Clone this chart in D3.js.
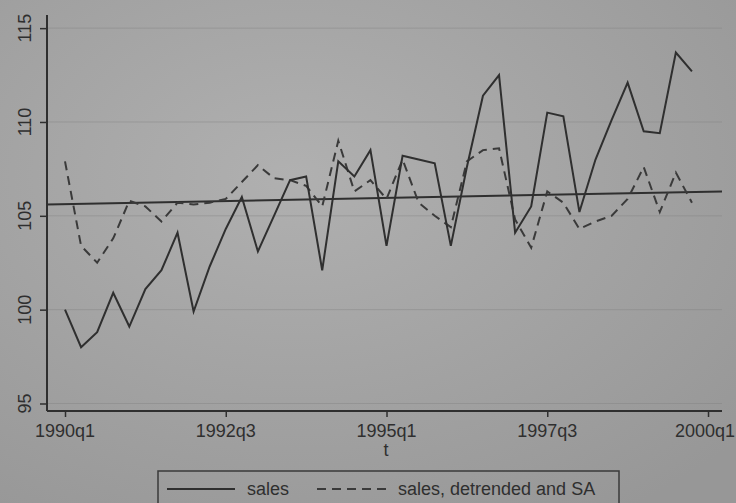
<!DOCTYPE html>
<html>
<head>
<meta charset="utf-8">
<script src="https://cdn.jsdelivr.net/npm/d3@7"></script>
<style>
  html, body { margin: 0; padding: 0; background: #a0a0a0; }
  svg { display: block; }
  text { font-family: "Liberation Sans", Arial, Helvetica, sans-serif; fill: #2f2f2f; }
</style>
</head>
<body>
<svg id="chart" width="736" height="503"></svg>
<script>
// Quarterly periods 1990q1 .. 1999q4 (index 0..39)
const quarters = d3.range(40).map(i => `${1990 + Math.floor(i / 4)}q${(i % 4) + 1}`);

const sales = [
  100.0, 98.0, 98.8, 100.9, 99.1, 101.1, 102.1, 104.1, 99.9, 102.3,
  104.3, 106.0, 103.1, 105.0, 106.9, 107.1, 102.1, 107.9, 107.1, 108.5,
  103.4, 108.2, 108.0, 107.8, 103.4, 107.6, 111.4, 112.5, 104.1, 105.5,
  110.5, 110.3, 105.2, 108.0, 110.1, 112.1, 109.5, 109.4, 113.7, 112.7
];

const salesDetrendedSA = [
  107.9, 103.4, 102.5, 103.8, 105.8, 105.5, 104.7, 105.7, 105.6, 105.7,
  105.9, 106.8, 107.7, 107.0, 106.9, 106.6, 105.5, 109.0, 106.3, 106.9,
  105.9, 108.0, 105.7, 105.0, 104.4, 107.9, 108.5, 108.6, 104.8, 103.3,
  106.3, 105.7, 104.3, 104.7, 105.0, 105.9, 107.6, 105.2, 107.3, 105.7
];

// reference (mean) line, as it appears at the left and right edges of the plot
const refLine = [105.6, 106.3];

const yTicks = [95, 100, 105, 110, 115];
const xTickIndex = [0, 10, 20, 30, 40];
const xTickLabels = ["1990q1", "1992q3", "1995q1", "1997q3", "2000q1"];

const legendLabels = ["sales", "sales, detrended and SA"];

const svg = d3.select("#chart");
const W = 736, H = 503;

// background with slight photo-like shading
const defs = svg.append("defs");
const grad = defs.append("radialGradient").attr("id", "bg")
  .attr("cx", "40%").attr("cy", "35%").attr("r", "80%");
grad.append("stop").attr("offset", "0%").attr("stop-color", "#b0b0b0");
grad.append("stop").attr("offset", "100%").attr("stop-color", "#979797");
svg.append("rect").attr("width", W).attr("height", H).attr("fill", "url(#bg)");

const x = d3.scaleLinear().domain([-1.12, 40.87]).range([47, 722]);
const y = d3.scaleLinear().domain([94.6, 115.7]).range([411, 15]);

const ink = "#2f2f2f";

// faint gridlines
svg.append("g").selectAll("line").data(yTicks).join("line")
  .attr("x1", x.range()[0]).attr("x2", x.range()[1])
  .attr("y1", d => y(d)).attr("y2", d => y(d))
  .attr("stroke", "#808080").attr("stroke-width", 1).attr("opacity", 0.4);

// y axis
const yAxis = d3.axisLeft(y).tickValues(yTicks).tickSize(7).tickFormat("");
const gy = svg.append("g").attr("transform", `translate(${x.range()[0]},0)`).call(yAxis);
gy.select(".domain").attr("d", `M0,${y.range()[1]}V${y.range()[0]}`).attr("stroke", ink).attr("stroke-width", 2);
gy.selectAll(".tick line").attr("stroke", ink).attr("stroke-width", 1.5);
svg.append("g").selectAll("text").data(yTicks).join("text")
  .attr("transform", d => `translate(31,${y(d)}) rotate(-90)`)
  .attr("text-anchor", "middle")
  .attr("font-size", 18)
  .text(d => d);

// x axis
const xAxis = d3.axisBottom(x).tickValues(xTickIndex).tickSize(6).tickFormat("");
const gx = svg.append("g").attr("transform", `translate(0,${y.range()[0]})`).call(xAxis);
gx.select(".domain").attr("d", `M${x.range()[0]},0H${x.range()[1]}`).attr("stroke", ink).attr("stroke-width", 2);
gx.selectAll(".tick line").attr("stroke", ink).attr("stroke-width", 1.5);
svg.append("g").selectAll("text").data(xTickIndex).join("text")
  .attr("x", (d, i) => i === xTickIndex.length - 1 ? W - 1 : x(d))
  .attr("y", 437)
  .attr("text-anchor", (d, i) => i === xTickIndex.length - 1 ? "end" : "middle")
  .attr("font-size", 18)
  .text((d, i) => xTickLabels[i]);

// x axis title
svg.append("text").attr("x", 386).attr("y", 456).attr("text-anchor", "middle")
  .attr("font-size", 18).text("t");

// reference line
svg.append("line")
  .attr("x1", x.range()[0]).attr("x2", x.range()[1])
  .attr("y1", y(refLine[0])).attr("y2", y(refLine[1]))
  .attr("stroke", ink).attr("stroke-width", 2);

const line = d3.line().x((d, i) => x(i)).y(d => y(d));

svg.append("path").datum(salesDetrendedSA)
  .attr("d", line).attr("fill", "none")
  .attr("stroke", "#3a3a3a").attr("stroke-width", 2)
  .attr("stroke-dasharray", "9,6");

svg.append("path").datum(sales)
  .attr("d", line).attr("fill", "none")
  .attr("stroke", ink).attr("stroke-width", 2)
  .attr("stroke-linejoin", "miter");

// legend
const lg = svg.append("g");
lg.append("rect").attr("x", 158).attr("y", 471).attr("width", 461).attr("height", 50)
  .attr("fill", "none").attr("stroke", "#3a3a3a").attr("stroke-width", 1.5);
lg.append("line").attr("x1", 167).attr("x2", 235).attr("y1", 489).attr("y2", 489)
  .attr("stroke", ink).attr("stroke-width", 2);
lg.append("text").attr("x", 247).attr("y", 495).attr("font-size", 18).text(legendLabels[0]);
lg.append("line").attr("x1", 317).attr("x2", 390).attr("y1", 489).attr("y2", 489)
  .attr("stroke", "#3a3a3a").attr("stroke-width", 2).attr("stroke-dasharray", "9,6");
lg.append("text").attr("x", 398).attr("y", 495).attr("font-size", 18).text(legendLabels[1]);
</script>
</body>
</html>
